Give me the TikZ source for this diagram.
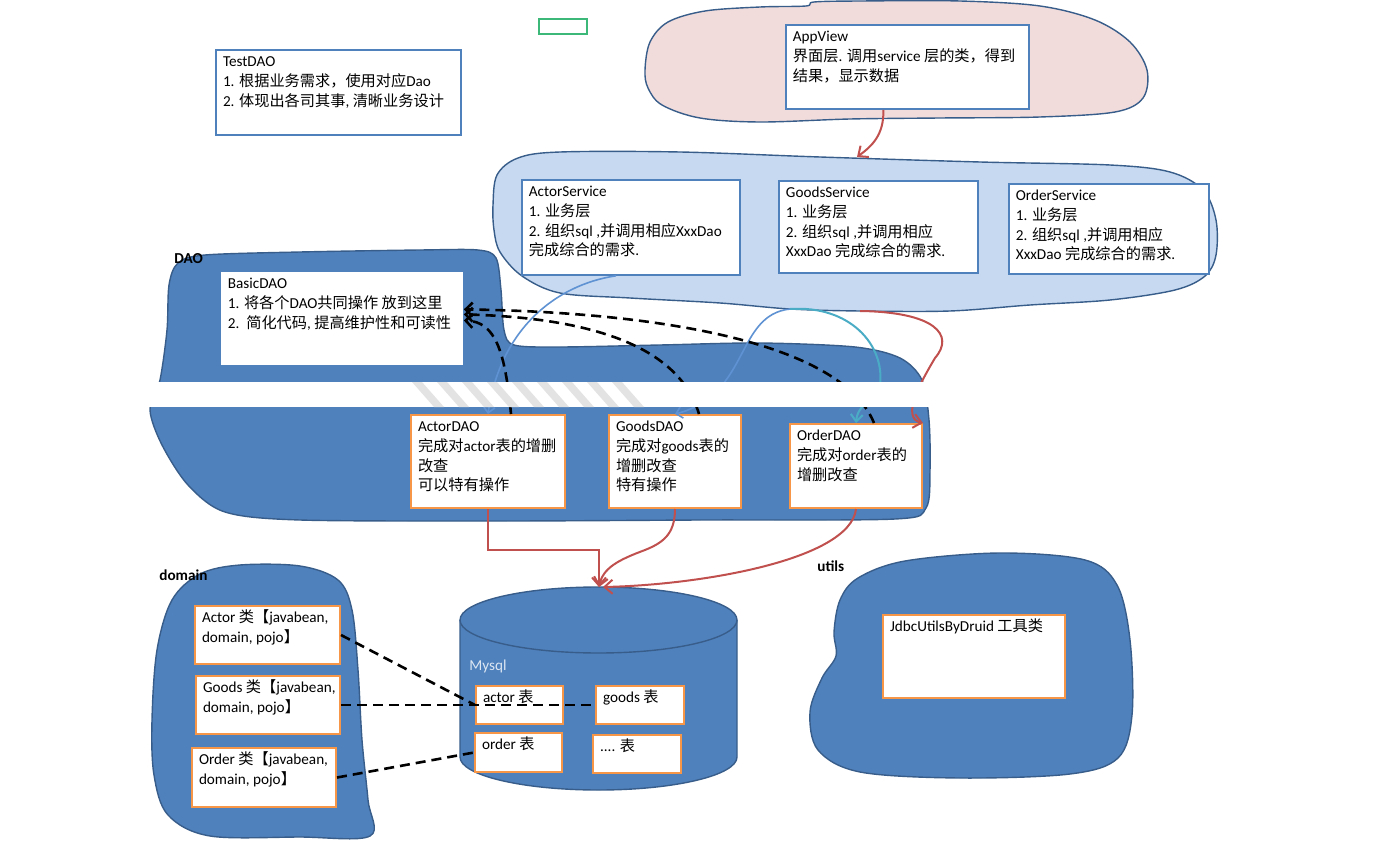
\documentclass[tikz,border=0pt]{standalone}
\usepackage{fontspec}
\setmainfont{Carlito}
\newfontfamily\cjkfont{Noto Sans CJK SC}
\usetikzlibrary{arrows.meta}

% CJK characters switch to the CJK font by themselves
\XeTeXinterchartokenstate=1
\chardef\cjkcls=7
\newcount\cjkcnt
\cjkcnt="3000
\loop \XeTeXcharclass\cjkcnt=\cjkcls \advance\cjkcnt by 1 \ifnum\cjkcnt<"A000 \repeat
\cjkcnt="FF00
\loop \XeTeXcharclass\cjkcnt=\cjkcls \advance\cjkcnt by 1 \ifnum\cjkcnt<"FFF0 \repeat
\XeTeXinterchartoks 0 \cjkcls={\cjkfont}
\XeTeXinterchartoks 4095 \cjkcls={\cjkfont}
\XeTeXinterchartoks \cjkcls 0={\rmfamily}
\XeTeXinterchartoks \cjkcls 4095={\rmfamily}

\definecolor{dkblue}{HTML}{4F81BD}
\definecolor{edgeblue}{HTML}{385D8A}
\definecolor{ltblue}{HTML}{C6D9F1}
\definecolor{pinkfill}{HTML}{F2DCDB}
\definecolor{orng}{HTML}{F79646}
\definecolor{redln}{HTML}{C0504D}
\definecolor{tealln}{HTML}{4BACC6}
\definecolor{curveblue}{HTML}{5E92D2}
\definecolor{grn}{HTML}{3CB878}
\definecolor{mysqltxt}{HTML}{DCE6F2}

% box text, width and height of the whole box in px
\newcommand{\inbox}[3]{\parbox[t][\dimexpr#2pt/2-3pt\relax][t]{\dimexpr#1pt/2-7pt\relax}%
  {\begin{tabular}[t]{@{}l@{}}#3\end{tabular}}}

\begin{document}
\begin{tikzpicture}[x=0.5pt, y=-0.5pt, font=\fontsize{7.6}{9.85}\selectfont,
    blob/.style={draw=edgeblue, line width=0.7pt, fill=dkblue},
    pane/.style={draw=dkblue, fill=white, line width=0.9pt, anchor=north west,
      inner xsep=3.5pt, inner ysep=1.5pt},
    tbl/.style={draw=orng, fill=white, line width=1pt, anchor=north west,
      inner xsep=3.5pt, inner ysep=1.5pt},
    lbl/.style={font=\fontsize{7.6}{9}\selectfont\bfseries, anchor=west, inner sep=0pt},
    redarr/.style={draw=redln, line width=1pt, -{Straight Barb[length=4pt,width=7pt]}},
    bluearr/.style={draw=curveblue, line width=0.8pt, -{Straight Barb[length=3pt,width=6pt]}},
    tealarr/.style={draw=tealln, line width=1pt, -{Straight Barb[length=3.5pt,width=6pt]}},
    dasharr/.style={draw=black, line width=1.3pt, dash pattern=on 5pt off 3pt,
      -{Straight Barb[length=3.5pt,width=7pt]}},
    dashln/.style={draw=black, line width=1.3pt, dash pattern=on 5pt off 3pt}]
  \useasboundingbox (0,0) rectangle (1375,845);

  % blobs
  \draw[blob, fill=pinkfill] plot[smooth cycle, tension=0.55] coordinates {
    (645,70) (650,42) (668,22) (705,11) (760,7) (806,6) (814,2) (860,1) (960,1)
    (1040,6) (1095,20) (1130,42) (1147,70) (1143,98) (1115,112) (1040,117)
    (940,118) (850,119) (760,122) (700,118) (662,105) (648,88)};
  \draw[blob, fill=ltblue] plot[smooth cycle, tension=0.55] coordinates {
    (493,205) (497,175) (518,158) (560,152) (680,152) (820,157) (980,162)
    (1110,165) (1170,172) (1203,190) (1216,220) (1216,255) (1205,276) (1175,290)
    (1110,300) (1030,305) (950,311) (860,311) (790,309) (720,303) (630,298)
    (560,293) (522,276) (500,252) (494,230)};
  \draw[blob] plot[smooth cycle, tension=0.5] coordinates {
    (167,330) (169,285) (178,263) (205,255) (300,252) (420,250) (478,250)
    (496,258) (501,290) (504,330) (514,345) (560,347) (660,345) (760,343)
    (855,347) (900,358) (922,380) (929,420) (930,470) (926,508) (895,519)
    (700,520) (500,521) (300,520) (225,512) (188,485) (162,445) (150,410) (160,380)};
  \draw[blob] plot[smooth cycle, tension=0.55] coordinates {
    (152,720) (157,650) (172,600) (200,574) (240,565) (300,566) (338,580)
    (352,610) (358,670) (362,740) (368,800) (370,836) (300,837) (210,836)
    (168,815) (154,775)};
  \draw[blob] plot[smooth cycle, tension=0.55] coordinates {
    (834,632) (840,600) (858,578) (905,561) (1000,553) (1085,560) (1117,585)
    (1130,640) (1132,715) (1118,758) (1070,774) (960,778) (860,772) (818,750)
    (810,712) (822,678) (836,656)};

  % Mysql cylinder
  \draw[blob] (460,620) -- (460,757)
    arc[start angle=180, end angle=360, x radius=69.25pt, y radius=16.5pt]
    -- (737,620)
    arc[start angle=0, end angle=180, x radius=69.25pt, y radius=16.5pt] -- cycle;
  \draw[edgeblue, line width=0.7pt] (460,620)
    arc[start angle=180, end angle=360, x radius=69.25pt, y radius=16.5pt];
  \coordinate (dbtop) at (599,587);
  \coordinate (svctop) at (857,157);
  \coordinate (svcbot) at (790,309);
  \coordinate (svcbot2) at (860,311);

  % labels
  \node[draw=grn, line width=1pt, anchor=north west, inner sep=0pt,
    minimum width=24pt, minimum height=7.5pt] (marker) at (538,18) {};
  \node[lbl] (daolbl) at (174,259) {DAO};
  \node[lbl] (domainlbl) at (159,575) {domain};
  \node[lbl] (utilslbl) at (817,566) {utils};
  \node[anchor=west, inner sep=0pt, text=mysqltxt] (mysqllbl) at (469,666) {Mysql};

  % boxes
  \node[pane, line width=1pt] (testdao) at (215,49)
    {\inbox{245}{85}{TestDAO\\1. 根据业务需求，使用对应Dao\\2. 体现出各司其事, 清晰业务设计}};
  \node[pane] (appview) at (785,24)
    {\inbox{243}{84}{AppView\\界面层. 调用service 层的类，得到\\结果，显示数据}};
  \node[pane] (actorsvc) at (521,179)
    {\inbox{218}{95}{ActorService\\1. 业务层\\2. 组织sql ,并调用相应XxxDao\\完成综合的需求.}};
  \node[pane] (goodssvc) at (778,180)
    {\inbox{199}{92}{GoodsService\\1. 业务层\\2. 组织sql ,并调用相应\\XxxDao 完成综合的需求.}};
  \node[pane] (ordersvc) at (1008,183)
    {\inbox{200}{90}{OrderService\\1. 业务层\\2. 组织sql ,并调用相应\\XxxDao 完成综合的需求.}};
  \node[pane, draw=none] (basicdao) at (220,271)
    {\inbox{242}{93}{BasicDAO\\1. 将各个DAO共同操作 放到这里\\2.\ \ 简化代码, 提高维护性和可读性}};
  \node[tbl] (actordao) at (410,414)
    {\inbox{154}{93}{ActorDAO\\完成对actor表的增删\\改查\\可以特有操作}};
  \node[tbl] (goodsdao) at (608,414)
    {\inbox{132}{93}{GoodsDAO\\完成对goods表的\\增删改查\\特有操作}};
  \node[tbl] (orderdao) at (789,423)
    {\inbox{132}{84}{OrderDAO\\完成对order表的\\增删改查}};
  \node[tbl] (actorcls) at (194,605) {\inbox{145}{58}{Actor 类【javabean,\\domain, pojo】}};
  \node[tbl] (goodscls) at (195,675) {\inbox{144}{58}{Goods 类【javabean,\\domain, pojo】}};
  \node[tbl] (ordercls) at (191,747) {\inbox{144}{59}{Order 类【javabean,\\domain, pojo】}};
  \node[tbl] (actortbl) at (475,685) {\inbox{87}{38}{actor 表}};
  \node[tbl] (goodstbl) at (595,685) {\inbox{88}{38}{goods 表}};
  \node[tbl] (ordertbl) at (474,732) {\inbox{87}{39}{order 表}};
  \node[tbl] (dotstbl) at (592,734) {\inbox{88}{38}{.... 表}};
  \node[tbl] (jdbc) at (882,614) {\inbox{182}{83}{JdbcUtilsByDruid 工具类}};

  % connectors
  \draw[redarr] ([xshift=-12pt]appview.south) .. controls (884,135) and (872,146) .. (svctop);
  \draw[bluearr] ([xshift=-7.5pt]actorsvc.south) .. controls (555,285) and (500,330) .. (actordao.north);
  \draw[bluearr] (svcbot) .. controls (735,315) and (750,395) .. (goodsdao.north);
  \draw[tealarr] (svcbot) .. controls (850,305) and (885,345) .. (880,385)
    .. controls (877,400) and (858,402) .. (orderdao.north);
  \draw[redarr] (svcbot2) .. controls (935,312) and (955,335) .. (935,358)
    .. controls (922,380) and (900,418) .. (orderdao.north east);
  \draw[dasharr] ([xshift=11.5pt]actordao.north) .. controls (505,350) and (495,322) .. ([yshift=-1pt]basicdao.east);
  \draw[dasharr] ([xshift=12pt]goodsdao.north) .. controls (680,350) and (600,318) .. ([yshift=2pt]basicdao.east);
  \draw[dasharr] ([xshift=9pt]orderdao.north) .. controls (840,340) and (650,312) .. ([yshift=4.5pt]basicdao.east);
  \draw[redarr] (actordao.south) -- ++(0,41) -| (dbtop);
  \draw[redarr] (goodsdao.south) .. controls (675,535) and (662,543) .. (645,550)
    .. controls (618,560) and (603,568) .. (dbtop);
  \draw[redarr] (orderdao.south) .. controls (850,560) and (700,585) .. ([xshift=2pt]dbtop);
  \draw[dashln] (actorcls.east) -- (actortbl.west);
  \draw[dashln] (goodscls.east) -- (goodstbl.west);
  \draw[dashln] (ordercls.east) -- (ordertbl.west);

  % torn band across the DAO layer
  \fill[white] (0,382) rectangle (1375,407);
  \foreach \i in {0,...,8}
    \fill[black!11] (412+25*\i,382) -- ++(10,0) -- ++(22,25) -- ++(-10,0) -- cycle;
\end{tikzpicture}
\end{document}
